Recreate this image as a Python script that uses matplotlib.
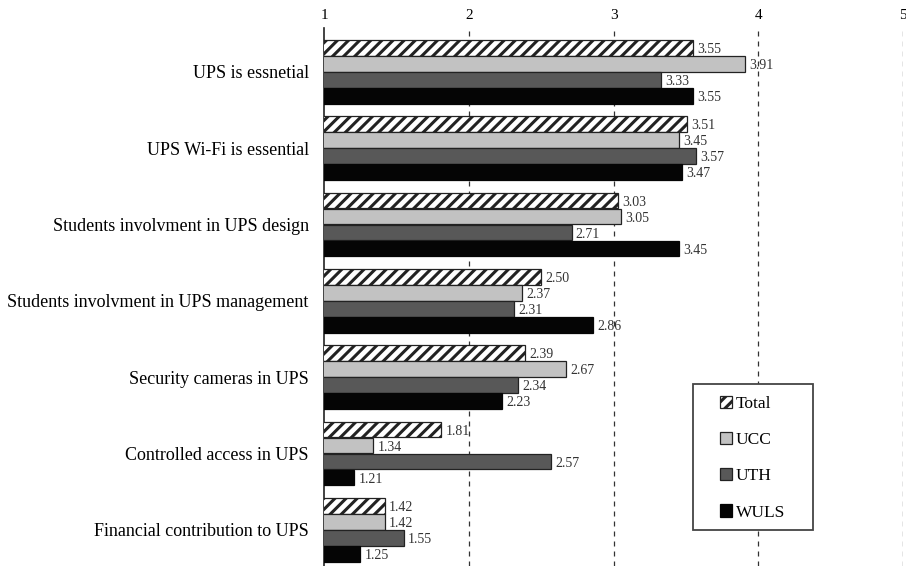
import matplotlib
matplotlib.use("Agg")
import matplotlib.pyplot as plt
from matplotlib.patches import Rectangle
import numpy as np

categories = ["UPS is essnetial", "UPS Wi-Fi is essential",
              "Students involvment in UPS design",
              "Students involvment in UPS management",
              "Security cameras in UPS", "Controlled access in UPS",
              "Financial contribution to UPS"]
series_names = ["Total", "UCC", "UTH", "WULS"]
total = [3.55, 3.51, 3.03, 2.50, 2.39, 1.81, 1.42]
ucc = [3.91, 3.45, 3.05, 2.37, 2.67, 1.34, 1.42]
uth = [3.33, 3.57, 2.71, 2.31, 2.34, 2.57, 1.55]
wuls = [3.55, 3.47, 3.45, 2.86, 2.23, 1.21, 1.25]
xticks = [1, 2, 3, 4, 5]

plt.rcParams['font.family'] = ['Liberation Serif', 'DejaVu Serif']
plt.rcParams['hatch.linewidth'] = 2.2

fig = plt.figure(figsize=(9.06, 5.66), dpi=100)
ax = fig.add_axes([324/906, 0, (903-324)/906, 1-28/566])

unit = 76.3
ytop = -44/unit
ybot = (566-72)/unit
y = np.arange(len(categories))
h = 16/unit
offsets = [-1.5*h, -0.5*h, 0.5*h, 1.5*h]
styles = [dict(facecolor='white', hatch='///', edgecolor='#222222'),
          dict(facecolor='#c2c2c2', edgecolor='#222222'),
          dict(facecolor='#585858', edgecolor='#222222'),
          dict(facecolor='#050505', edgecolor='#050505')]
allvals = [total, ucc, uth, wuls]
for name, vals, off, st in zip(series_names, allvals, offsets, styles):
    ax.barh(y + off, vals, height=h*0.98, linewidth=0.9, label=name, zorder=3, **st)
    for yi, v in zip(y, vals):
        ax.text(v + 0.03, yi + off + 0.02, f"{v:.2f}", va='center', ha='left',
                fontsize=10, color='#333333', zorder=4)

ax.set_xlim(1, 5)
ax.set_ylim(ybot, ytop)
ax.set_yticks(y)
ax.set_yticklabels(categories, fontsize=13)
ax.tick_params(axis='y', length=0, pad=11)
ax.xaxis.tick_top()
ax.set_xticks(xticks)
ax.set_xticklabels([str(t) for t in xticks], fontsize=11)
ax.tick_params(axis='x', length=0, pad=4)
for s in ['top', 'right', 'bottom']:
    ax.spines[s].set_visible(False)
ax.spines['left'].set_linewidth(1.2)
ax.spines['left'].set_color('#222222')
for t in xticks[1:]:
    ax.axvline(t, color='#333333', linestyle=(0, (4, 4)), linewidth=0.9, zorder=1)

# legend frame
frame = Rectangle((693/906, 1-530/566), 120/906, 146/566,
                  transform=fig.transFigure, facecolor='white',
                  edgecolor='#444444', linewidth=1.3, zorder=5, clip_on=False)
ax.add_patch(frame)
leg = ax.legend(loc='upper left', bbox_to_anchor=(720/906, 1-396/566),
                bbox_transform=fig.transFigure, fontsize=12.5, handlelength=0.7,
                handleheight=0.7, labelspacing=1.15, handletextpad=0.2,
                borderpad=0.0, borderaxespad=0, frameon=False)
leg.set_zorder(6)

fig.savefig("out.png", dpi=100)
